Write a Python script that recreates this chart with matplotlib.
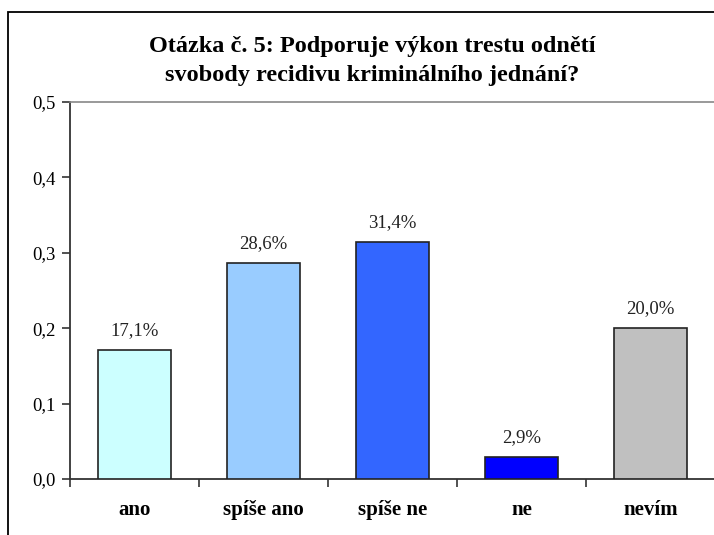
import matplotlib.pyplot as plt
from matplotlib.patches import Rectangle
from matplotlib.ticker import FixedLocator, FuncFormatter
import numpy as np

categories = ['ano', 'spíše ano', 'spíše ne', 'ne', 'nevím']
values = [0.171, 0.286, 0.314, 0.029, 0.200]
value_labels = ['17,1%', '28,6%', '31,4%', '2,9%', '20,0%']
colors = ['#CCFFFF', '#99CCFF', '#3366FF', '#0000FF', '#C0C0C0']
title = 'Otázka č. 5: Podporuje výkon trestu odnětí\nsvobody recidivu kriminálního jednání?'

plt.rcParams['font.family'] = ['Liberation Serif', 'DejaVu Serif']

fig = plt.figure(figsize=(7.14, 5.35), dpi=100)
ax = fig.add_axes([70 / 714, 1 - 479 / 535, 645 / 714, 377 / 535])

x = np.arange(len(categories))
ax.bar(x, values, width=0.56, color=colors, edgecolor='#222222', linewidth=1.2, zorder=3)

for xi, v, lab in zip(x, values, value_labels):
    ax.annotate(lab, (xi, v), xytext=(0, 8), textcoords='offset points',
                ha='center', va='bottom', fontsize=13.5, color='#222222')

ax.set_xlim(-0.5, len(categories) - 0.5)
ax.set_ylim(0, 0.5)
ax.set_yticks(np.arange(0, 0.51, 0.1))
ax.yaxis.set_major_formatter(FuncFormatter(lambda v, p: ('%.1f' % v).replace('.', ',')))
ax.tick_params(axis='y', labelsize=13.5, length=6, width=1.2, color='#333333', pad=4)

# hranice kategorii jako ticky, popisky pod sloupci
ax.xaxis.set_major_locator(FixedLocator(np.arange(-0.5, len(categories), 1.0)))
ax.xaxis.set_minor_locator(FixedLocator(x))
ax.set_xticklabels([''] * (len(categories) + 1))
ax.set_xticklabels(categories, minor=True, fontsize=15, fontweight='bold')
ax.tick_params(axis='x', which='major', length=6, width=1.2, color='#333333')
ax.tick_params(axis='x', which='minor', length=0, pad=15)

for s in ['left', 'bottom']:
    ax.spines[s].set_color('#333333')
    ax.spines[s].set_linewidth(1.3)
ax.spines['top'].set_color('#888888')
ax.spines['top'].set_linewidth(1.2)
ax.spines['right'].set_visible(False)

fig.text(372 / 714, 1 - 61 / 535, title, ha='center', va='center',
         fontsize=17.5, fontweight='bold', linespacing=1.5)

# ramecek grafu (oriznuty vpravo a dole)
fig.patches.append(Rectangle((8 / 714, -0.1), 1.1, 1.1 - 12 / 535,
                             transform=fig.transFigure, fill=False,
                             edgecolor='black', linewidth=1.3))

fig.savefig('out.png', dpi=100)
